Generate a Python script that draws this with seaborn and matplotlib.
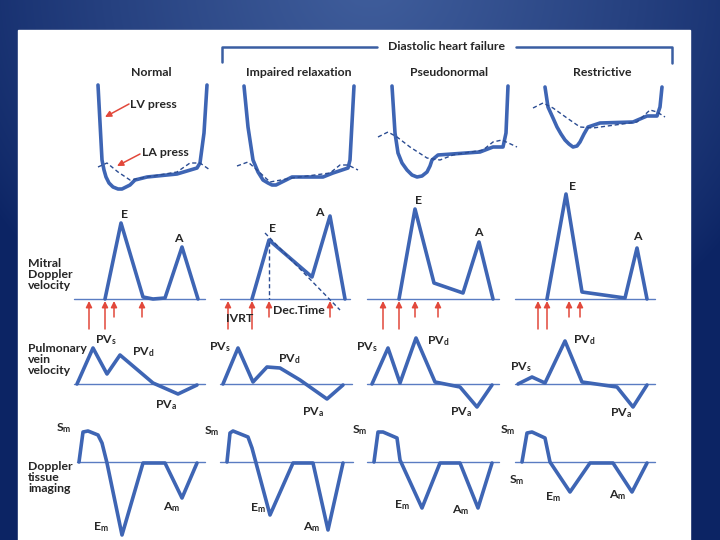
import numpy as np
import pandas as pd
import seaborn as sns
import matplotlib.pyplot as plt
from matplotlib.patches import Rectangle

# panel layout (picture pixels): where each column's trace starts, row baselines
conditions = ["Normal", "Impaired relaxation", "Pseudonormal", "Restrictive"]
col_x0 = [74, 220, 367, 515]
press_base, mitral_base, pv_base, tdi_base = 190, 299, 384, 462

# LV / LA pressure traces: time offset and pressure above reference level
lv_t = [[24, 28, 30, 32, 35, 39, 44, 48, 52, 56, 61, 73, 103, 123, 126, 130, 133],
        [24, 28, 33, 38, 43, 48, 52, 56, 60, 66, 72, 103, 113, 128, 130, 134],
        [25, 28, 31, 35, 40, 45, 50, 55, 60, 63, 65, 71, 113, 126, 136, 139, 141],
        [30, 33, 38, 42, 46, 50, 54, 58, 62, 65, 69, 73, 85, 118, 132, 142, 145, 147]]
lv_v = [[105, 30, 20, 13, 7, 3, 1, 1, 3, 5, 10, 13, 16, 22, 27, 57, 105],
        [104, 63, 30, 18, 10, 7, 5, 5, 7, 10, 13, 13, 17, 22, 30, 104],
        [104, 57, 37, 27, 20, 15, 13, 14, 18, 24, 30, 35, 38, 43, 43, 57, 104],
        [103, 83, 72, 63, 56, 50, 46, 43, 44, 48, 56, 63, 67, 68, 74, 74, 83, 103]]
la_t = [[24, 33, 44, 56, 73, 103, 116, 126, 136],
        [17, 28, 37, 50, 72, 110, 120, 128, 138],
        [11, 21, 30, 43, 60, 73, 86, 116, 126, 135, 150],
        [18, 28, 38, 52, 65, 78, 122, 135, 142, 150]]
la_v = [[23, 27, 18, 10, 13, 18, 27, 27, 20],
        [24, 28, 20, 8, 12, 17, 25, 25, 20],
        [53, 58, 53, 43, 32, 30, 35, 40, 48, 50, 43],
        [82, 87, 82, 72, 63, 62, 68, 80, 78, 73]]

# mitral inflow Doppler
mitral_t = [[31, 47, 69, 79, 91, 108, 124],
            [32, 49, 92, 110, 125],
            [32, 48, 67, 96, 112, 126],
            [32, 51, 67, 110, 122, 132]]
mitral_v = [[0, 76, 2, 0, 1, 52, 0],
            [0, 59, 22, 83, 0],
            [0, 90, 16, 6, 57, 0],
            [0, 105, 7, 1, 51, 0]]
mitral_len = [131, 130, 132, 140]
arrow_t = [[15, 31, 40, 68], [8, 32, 49, 110], [16, 32, 48, 71], [23, 32, 54, 65]]

# pulmonary vein velocity
pv_t = [[3, 19, 33, 46, 79, 104, 123],
        [3, 18, 33, 47, 60, 80, 107, 123],
        [5, 21, 33, 49, 68, 93, 110, 125],
        [3, 17, 30, 50, 67, 102, 118, 132]]
pv_v = [[0, 36, 10, 29, 1, -10, -1],
        [0, 36, 2, 17, 16, 4, -15, -1],
        [0, 36, 1, 46, 2, -3, -23, -1],
        [0, 7, 1, 43, 2, -3, -23, -1]]
pv_len = [131, 132, 132, 140]

# tissue Doppler
tdi_t = [[5, 9, 14, 24, 28, 33, 48, 69, 91, 108, 123],
         [7, 10, 13, 28, 32, 50, 73, 93, 108, 123],
         [7, 11, 16, 30, 33, 55, 73, 93, 111, 125],
         [7, 12, 17, 30, 35, 55, 75, 98, 117, 132]]
tdi_v = [[0, 30, 31, 27, 19, -1, -73, -1, -1, -36, -1],
         [0, 29, 31, 25, 14, -53, -1, -1, -68, -1],
         [0, 30, 30, 24, 2, -46, -1, -1, -46, -1],
         [0, 29, 30, 24, 0, -30, -1, -1, -30, -1]]
tdi_start = [3, 0, 0, 0]
tdi_len = [131, 133, 132, 140]

BLUE = "#3e65b4"
DASH = "#2b4c92"
RED = "#e2483b"
FONT = dict(fontsize=8.8, fontweight="bold", zorder=6)


def build(ts, vs, base, name):
    rows = []
    for i, (t, v) in enumerate(zip(ts, vs)):
        for a, b in zip(t, v):
            rows.append({"x": col_x0[i] + a, "y": base - b, "curve": f"{name}{i}"})
    return pd.DataFrame(rows)


solid = pd.concat([build(lv_t, lv_v, press_base, "lv"),
                   build(mitral_t, mitral_v, mitral_base, "mi"),
                   build(pv_t, pv_v, pv_base, "pv"),
                   build(tdi_t, tdi_v, tdi_base, "td")])
dashed = build(la_t, la_v, press_base, "la")

sns.set_theme(style="white")
plt.rcParams["font.family"] = ["Lato", "DejaVu Sans"]
plt.rcParams["mathtext.fontset"] = "custom"
plt.rcParams["mathtext.rm"] = "Lato:bold"
plt.rcParams["mathtext.bf"] = "Lato:bold"
plt.rcParams["mathtext.default"] = "bf"

fig = plt.figure(figsize=(7.2, 5.4), dpi=100)
ax = fig.add_axes([0, 0, 1, 1])

# blue slide background
yy, xx = np.mgrid[0:540, 0:720]
d = np.sqrt(((xx - 370) / 450) ** 2 + ((yy + 20) / 420) ** 2)
w = np.clip(1 - d, 0, 1)[..., None] ** 0.8
dark = np.array([12, 36, 100]) / 255
light = np.array([64, 94, 156]) / 255
ax.imshow(dark + (light - dark) * w, extent=(0, 720, 540, 0), aspect="auto", zorder=0)
ax.add_patch(Rectangle((18, 30), 672, 520, color="white", zorder=1))

# baselines
for i in range(4):
    for base, length, start in [(mitral_base, mitral_len[i], 0),
                                (pv_base, pv_len[i], 0),
                                (tdi_base, tdi_len[i], tdi_start[i])]:
        ax.plot([col_x0[i] + start, col_x0[i] + length], [base, base],
                color="#5a7cc2", lw=1.0, zorder=2)

sns.lineplot(data=solid, x="x", y="y", units="curve", estimator=None, sort=False,
             color=BLUE, lw=2.6, ax=ax, zorder=3,
             solid_joinstyle="round", solid_capstyle="round")
sns.lineplot(data=dashed, x="x", y="y", units="curve", estimator=None, sort=False,
             color=DASH, lw=1.0, ax=ax, zorder=4, linestyle=(0, (3, 2)))
ax.set_xlim(0, 720)
ax.set_ylim(540, 0)
ax.axis("off")

# deceleration time construction in impaired relaxation
ax.plot([col_x0[1] + 45, col_x0[1] + 120], [mitral_base - 66, mitral_base + 11],
        color=DASH, lw=1.0, ls=(0, (3, 2)), zorder=4)
ax.plot([col_x0[1] + 49, col_x0[1] + 49], [mitral_base - 57, mitral_base],
        color=DASH, lw=1.0, ls=(0, (3, 2)), zorder=4)

# red timing arrows
for i in range(4):
    for k, t in enumerate(arrow_t[i]):
        tail = 329 if k < 2 else 317
        ax.annotate("", xy=(col_x0[i] + t, 301), xytext=(col_x0[i] + t, tail),
                    arrowprops=dict(arrowstyle="-|>", color=RED, lw=1.1,
                                    mutation_scale=9, shrinkA=0, shrinkB=0), zorder=5)
for xy, xyt in [((105, 117), (129, 104)), ((117, 166), (140, 154))]:
    ax.annotate("", xy=xy, xytext=xyt,
                arrowprops=dict(arrowstyle="-|>", color=RED, lw=1.1,
                                mutation_scale=9, shrinkA=0, shrinkB=0), zorder=5)

# header bracket
ax.plot([222, 222, 377], [62, 47, 47], color="#3a5ea2", lw=1.8, zorder=2)
ax.plot([516, 672, 672], [47, 47, 63], color="#3a5ea2", lw=1.8, zorder=2)
ax.text(447, 47, "Diastolic heart failure", ha="center", va="center", **FONT)

title_x = [151, 299, 449, 602]
for x, name in zip(title_x, conditions):
    ax.text(x, 73, name, ha="center", va="center", **FONT)

side = [(265, "Mitral\nDoppler\nvelocity"), (350, "Pulmonary\nvein\nvelocity"),
        (468, "Doppler\ntissue\nimaging")]
for y, s in side:
    ax.text(28, y - 7, s, ha="left", va="top", linespacing=1.0, **FONT)

labels = [
    (130, 104, "LV press", "left"), (142, 153, "LA press", "left"),
    (124, 215, "E", "center"), (178, 239, "A", "center"),
    (272, 228, "E", "center"), (319, 213, "A", "center"),
    (419, 200, "E", "center"), (478, 232, "A", "center"),
    (572, 186, "E", "center"), (637, 237, "A", "center"),
    (240, 318, "IVRT", "center"), (273, 310, "Dec.Time", "left"),
    (106, 340, r"PV$_s$", "center"), (143, 352, r"PV$_d$", "center"), (166, 405, r"PV$_a$", "center"),
    (220, 347, r"PV$_s$", "center"), (289, 359, r"PV$_d$", "center"), (313, 412, r"PV$_a$", "center"),
    (367, 347, r"PV$_s$", "center"), (438, 341, r"PV$_d$", "center"), (461, 412, r"PV$_a$", "center"),
    (521, 367, r"PV$_s$", "center"), (584, 340, r"PV$_d$", "center"), (621, 413, r"PV$_a$", "center"),
    (64, 428, r"S$_m$", "center"), (101, 527, r"E$_m$", "center"), (172, 507, r"A$_m$", "center"),
    (212, 431, r"S$_m$", "center"), (258, 508, r"E$_m$", "center"), (312, 527, r"A$_m$", "center"),
    (360, 430, r"S$_m$", "center"), (402, 505, r"E$_m$", "center"), (461, 510, r"A$_m$", "center"),
    (508, 430, r"S$_m$", "center"), (517, 480, r"S$_m$", "center"),
    (553, 497, r"E$_m$", "center"), (618, 495, r"A$_m$", "center"),
]
for x, y, s, ha in labels:
    ax.text(x, y, s, ha=ha, va="center", **FONT)

fig.savefig("out.png", dpi=100)
